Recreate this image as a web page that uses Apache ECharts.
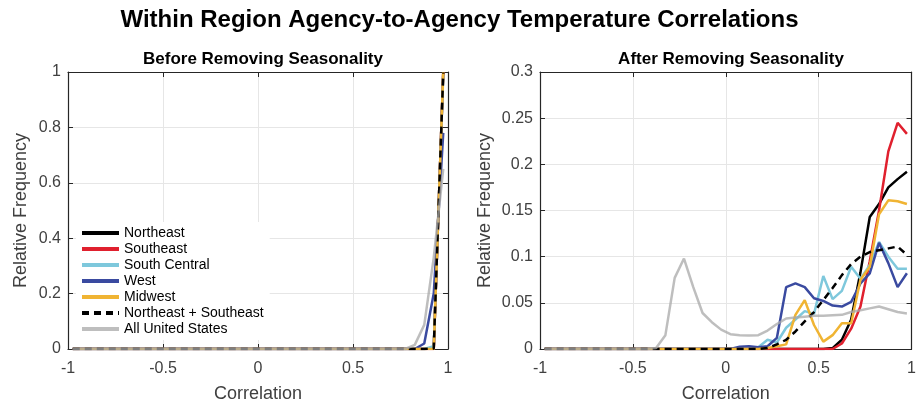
<!DOCTYPE html>
<html>
<head>
<meta charset="utf-8">
<script src="https://cdn.jsdelivr.net/npm/echarts@6/dist/echarts.min.js"></script>
<style>
  html, body { margin: 0; padding: 0; background: #fff; }
  #chart { width: 919px; height: 408px; }
</style>
</head>
<body>
<div id="chart"></div>
<script>
// bin centres of the correlation histogram
const binCenters = [
  -0.975, -0.925, -0.875, -0.825, -0.775, -0.725, -0.675, -0.625, -0.575, -0.525,
  -0.475, -0.425, -0.375, -0.325, -0.275, -0.225, -0.175, -0.125, -0.075, -0.025,
  0.025, 0.075, 0.125, 0.175, 0.225, 0.275, 0.325, 0.375, 0.425, 0.475,
  0.525, 0.575, 0.625, 0.675, 0.725, 0.775, 0.825, 0.875, 0.925, 0.975
];

const regionNames = ['Northeast', 'Southeast', 'South Central', 'West', 'Midwest', 'Northeast + Southeast', 'All United States'];

// Before removing seasonality (relative frequency)
const beforeNortheast = [0,0,0,0,0,0,0,0,0,0, 0,0,0,0,0,0,0,0,0,0, 0,0,0,0,0,0,0,0,0,0, 0,0,0,0,0,0,0,0,0.003,0.997];
const beforeSoutheast = [0,0,0,0,0,0,0,0,0,0, 0,0,0,0,0,0,0,0,0,0, 0,0,0,0,0,0,0,0,0,0, 0,0,0,0,0,0,0,0,0,1.0];
const beforeSouthCentral = [0,0,0,0,0,0,0,0,0,0, 0,0,0,0,0,0,0,0,0,0, 0,0,0,0,0,0,0,0,0,0, 0,0,0,0,0,0,0,0,0.01,0.99];
const beforeWest = [0,0,0,0,0,0,0,0,0,0, 0,0,0,0,0,0,0,0,0,0, 0,0,0,0,0,0,0,0,0,0, 0,0,0,0,0,0,0,0.02,0.2,0.78];
const beforeMidwest = [0,0,0,0,0,0,0,0,0,0, 0,0,0,0,0,0,0,0,0,0, 0,0,0,0,0,0,0,0,0,0, 0,0,0,0,0,0,0,0,0,1.0];
const beforeNESE = [0,0,0,0,0,0,0,0,0,0, 0,0,0,0,0,0,0,0,0,0, 0,0,0,0,0,0,0,0,0,0, 0,0,0,0,0,0,0,0,0.002,0.998];
const beforeAllUS = [0,0,0,0,0,0,0,0,0,0, 0,0,0,0,0,0,0,0,0,0, 0,0,0,0,0,0,0,0,0,0, 0,0,0,0,0,0,0.015,0.087,0.33,0.65];

// After removing seasonality (relative frequency)
const afterNortheast = [0,0,0,0,0,0,0,0,0,0, 0,0,0,0,0,0,0,0,0,0, 0,0,0,0,0,0,0,0,0,0,
  0,0.001,0.01,0.032,0.083,0.143,0.157,0.175,0.184,0.192];
const afterSoutheast = [0,0,0,0,0,0,0,0,0,0, 0,0,0,0,0,0,0,0,0,0, 0,0,0,0,0,0,0,0,0,0,
  0,0,0.006,0.022,0.046,0.095,0.15,0.214,0.245,0.233];
const afterSouthCentral = [0,0,0,0,0,0,0,0,0,0, 0,0,0,0,0,0,0,0,0,0, 0,0,0,0.002,0.01,0.007,0.023,0.032,0.041,0.038,
  0.079,0.054,0.063,0.089,0.076,0.091,0.116,0.1,0.087,0.087];
const afterWest = [0,0,0,0,0,0,0,0,0,0, 0,0,0,0,0,0,0,0,0,0, 0,0.0025,0.003,0.002,0.003,0.012,0.067,0.071,0.067,0.055,
  0.052,0.047,0.046,0.051,0.071,0.082,0.115,0.093,0.067,0.082];
const afterMidwest = [0,0,0,0,0,0,0,0,0,0, 0,0,0,0,0,0,0,0,0,0, 0,0,0,0,0.001,0.003,0.005,0.037,0.053,0.026,
  0.008,0.015,0.028,0.028,0.075,0.089,0.146,0.161,0.16,0.157];
const afterNESE = [0,0,0,0,0,0,0,0,0,0, 0,0,0,0,0,0,0,0,0,0, 0,0,0,0,0.001,0.005,0.01,0.019,0.03,0.04,
  0.053,0.066,0.08,0.092,0.1,0.105,0.107,0.109,0.111,0.102];
const afterAllUS = [0,0,0,0,0,0,0,0,0,0, 0,0,0.001,0.015,0.077,0.098,0.067,0.039,0.029,0.021,
  0.016,0.015,0.0146,0.015,0.02,0.027,0.033,0.034,0.035,0.036,
  0.036,0.0365,0.037,0.04,0.042,0.044,0.046,0.043,0.04,0.0385];

const beforeSets = [beforeNortheast, beforeSoutheast, beforeSouthCentral, beforeWest, beforeMidwest, beforeNESE, beforeAllUS];
const afterSets = [afterNortheast, afterSoutheast, afterSouthCentral, afterWest, afterMidwest, afterNESE, afterAllUS];

const lineColors = ['#000000', '#e0202e', '#7ec8dc', '#3a4aa0', '#f0b433', '#000000', '#a8a8a8'];

const fontFamily = '"Liberation Sans", Arial, Helvetica, sans-serif';
const axisColor = '#262626';
const labelColor = '#404040';

const chart = echarts.init(document.getElementById('chart'));

const pairs = (vals) => binCenters.map((c, i) => [c, vals[i]]);

const makeSeries = (sets, axisIdx) => sets.map((vals, k) => ({
  name: regionNames[k],
  type: 'line',
  xAxisIndex: axisIdx,
  yAxisIndex: axisIdx,
  data: pairs(vals),
  symbol: 'none',
  showSymbol: false,
  lineStyle: {
    color: lineColors[k],
    width: 2.5,
    type: k === 5 ? [7, 5] : 'solid',
    opacity: k === 6 ? 0.75 : 1,
  },
  itemStyle: { color: lineColors[k] },
  z: 2 + k,
  silent: true,
}));

const mainX = (gridIndex) => ({
  type: 'value',
  gridIndex,
  min: -1,
  max: 1,
  interval: 0.5,
  name: 'Correlation',
  nameLocation: 'middle',
  nameGap: 36,
  nameTextStyle: { fontFamily, fontSize: 18, color: labelColor },
  axisLine: { show: true, onZero: false, lineStyle: { color: axisColor, width: 1.2 } },
  axisTick: { show: true, inside: true, length: 5, lineStyle: { color: axisColor } },
  axisLabel: { fontFamily, fontSize: 16, color: labelColor, margin: 12, formatter: (v) => String(v) },
  splitLine: { show: true, lineStyle: { color: '#e6e6e6', width: 1 } },
});

const mirrorX = (gridIndex) => ({
  type: 'value',
  gridIndex,
  position: 'top',
  min: -1,
  max: 1,
  interval: 0.5,
  axisLine: { show: true, onZero: false, lineStyle: { color: axisColor, width: 1.2 } },
  axisTick: { show: true, inside: true, length: 5, lineStyle: { color: axisColor } },
  axisLabel: { show: false },
  splitLine: { show: false },
});

const mainY = (gridIndex, max, interval, nameGap) => ({
  type: 'value',
  gridIndex,
  min: 0,
  max,
  interval,
  name: 'Relative Frequency',
  nameLocation: 'middle',
  nameGap,
  nameTextStyle: { fontFamily, fontSize: 18, color: labelColor },
  axisLine: { show: true, onZero: false, lineStyle: { color: axisColor, width: 1.2 } },
  axisTick: { show: true, inside: true, length: 5, lineStyle: { color: axisColor } },
  axisLabel: { fontFamily, fontSize: 16, color: labelColor, margin: 7, formatter: (v) => String(+v.toFixed(2)) },
  splitLine: { show: true, lineStyle: { color: '#e6e6e6', width: 1 } },
});

const mirrorY = (gridIndex, max, interval) => ({
  type: 'value',
  gridIndex,
  position: 'right',
  min: 0,
  max,
  interval,
  axisLine: { show: true, onZero: false, lineStyle: { color: axisColor, width: 1.2 } },
  axisTick: { show: true, inside: true, length: 5, lineStyle: { color: axisColor } },
  axisLabel: { show: false },
  splitLine: { show: false },
});

const option = {
  animation: false,
  backgroundColor: '#ffffff',
  title: [
    {
      text: 'Within Region Agency-to-Agency Temperature Correlations',
      left: 'center',
      top: 3,
      textStyle: { fontFamily, fontSize: 24, fontWeight: 'bold', color: '#000' },
    },
    {
      text: 'Before Removing Seasonality',
      left: 258,
      textAlign: 'center',
      top: 46,
      textStyle: { fontFamily, fontSize: 17, fontWeight: 'bold', color: '#000' },
    },
    {
      text: 'After Removing Seasonality',
      left: 726,
      textAlign: 'center',
      top: 46,
      textStyle: { fontFamily, fontSize: 17, fontWeight: 'bold', color: '#000' },
    },
  ],
  legend: {
    data: regionNames,
    orient: 'vertical',
    left: 76,
    top: 222,
    itemWidth: 37,
    itemHeight: 10,
    itemGap: 2,
    padding: [4, 6, 4, 4],
    backgroundColor: '#ffffff',
    textStyle: { fontFamily, fontSize: 14, color: '#000' },
    itemStyle: { opacity: 0 },
    lineStyle: { width: 4 },
    selectedMode: false,
  },
  grid: [
    { left: 68, top: 72, width: 380, height: 280 },
    { left: 540, top: 72, width: 372, height: 280 },
  ],
  xAxis: [mainX(0), mainX(1), mirrorX(0), mirrorX(1)],
  yAxis: [mainY(0, 1, 0.2, 38), mainY(1, 0.3, 0.05, 46), mirrorY(0, 1, 0.2), mirrorY(1, 0.3, 0.05)],
  series: [...makeSeries(beforeSets, 0), ...makeSeries(afterSets, 1)],
};

chart.setOption(option);
</script>
</body>
</html>
